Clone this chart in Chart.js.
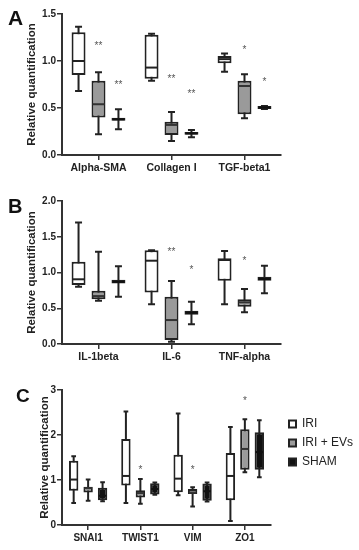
<!DOCTYPE html>
<html>
<head>
<meta charset="utf-8">
<script src="https://cdn.jsdelivr.net/npm/chart.js@4"></script>
<style>
	html, body { margin: 0; padding: 0; background: #fff; }
	#wrap { position: relative; width: 359px; height: 550px; }
	canvas { position: absolute; left: 0; }
</style>
</head>
<body>
<div id="wrap">
	<canvas id="chartA" width="359" height="185" style="top:0px"></canvas>
	<canvas id="chartB" width="359" height="180" style="top:185px"></canvas>
	<canvas id="chartC" width="359" height="185" style="top:365px"></canvas>
</div>
<script>
// === Data ===
// every box row is [min, q1, median, q3, max]

const groupNames = ['IRI', 'IRI + EVs', 'SHAM'];

// Panel A
const aCategories = ['Alpha-SMA', 'Collagen I', 'TGF-beta1'];
const aIri = [[0.68, 0.85, 1.00, 1.305, 1.365], [0.79, 0.81, 0.93, 1.28, 1.29], [0.886, 0.975, 1.02, 1.053, 1.08]];
const aEvs = [[0.22, 0.40, 0.54, 0.79, 0.88], [0.149, 0.213, 0.32, 0.354, 0.457], [0.39, 0.433, 0.734, 0.79, 0.86]];
const aSham = [[0.273, 0.365, 0.38, 0.395, 0.486], [0.188, 0.215, 0.23, 0.245, 0.266], [0.49, 0.49, 0.505, 0.52, 0.52]];
const aEvsStars = ['**', '**', '*'];
const aEvsStarY = [1.18, 0.83, 1.14];
const aShamStars = ['**', '**', '*'];
const aShamStarY = [0.77, 0.67, 0.80];

// Panel B
const bCategories = ['IL-1beta', 'IL-6', 'TNF-alpha'];
const bIri = [[0.80, 0.825, 0.905, 1.15, 1.70], [0.555, 0.72, 1.165, 1.31, 1.31], [0.555, 0.885, 1.175, 1.20, 1.30]];
const bEvs = [[0.605, 0.625, 0.67, 0.745, 1.29], [0.03, 0.056, 0.335, 0.66, 0.88], [0.443, 0.52, 0.583, 0.625, 0.77]];
const bSham = [[0.66, 0.845, 0.87, 0.90, 1.087], [0.275, 0.41, 0.438, 0.465, 0.59], [0.71, 0.885, 0.91, 0.94, 1.095]];
const bEvsStars = ['', '**', '*'];
const bEvsStarY = [null, 1.31, 1.19];
const bShamStars = ['', '*', ''];
const bShamStarY = [null, 1.06, null];

// Panel C
const cCategories = ['SNAI1', 'TWIST1', 'VIM', 'ZO1'];
const cIri = [[0.49, 0.76, 1.01, 1.43, 1.53], [0.49, 0.88, 1.09, 1.91, 2.52], [0.66, 0.73, 1.03, 1.56, 2.48], [0.09, 0.55, 1.09, 1.60, 2.18]];
const cEvs = [[0.54, 0.72, 0.82, 0.85, 1.01], [0.47, 0.61, 0.71, 0.77, 1.02], [0.41, 0.69, 0.72, 0.80, 0.84], [1.17, 1.23, 1.69, 2.13, 2.35]];
const cSham = [[0.53, 0.55, 0.65, 0.83, 0.95], [0.67, 0.68, 0.80, 0.93, 0.945], [0.52, 0.54, 0.75, 0.92, 0.945], [1.06, 1.23, 1.62, 2.06, 2.33]];
const cEvsStars = ['', '*', '*', '*'];
const cEvsStarY = [null, 1.27, 1.27, 2.80];


// === Global settings ===

const FONT = 'Arial, "Liberation Sans", Helvetica, sans-serif';
Chart.defaults.font.family = FONT;
Chart.defaults.color = '#222';

const boxFills = ['#ffffff', '#9a9a9a', '#111111'];
const medianColors = ['#222', '#333', '#111'];


// === Box plot drawing (whiskers, medians, stars, panel letter) ===

const boxPlot = {
	id: 'boxPlot',
	beforeDatasetsDraw(chart) {
		const ctx = chart.ctx;
		const y = chart.scales.y;
		ctx.save();
		ctx.strokeStyle = '#222';
		ctx.lineWidth = 2;
		chart.data.datasets.forEach((ds, i) => {
			chart.getDatasetMeta(i).data.forEach((bar, j) => {
				const s = ds.stats[j];
				const half = bar.width * 0.25;
				const yLow = y.getPixelForValue(s[0]);
				const yHigh = y.getPixelForValue(s[4]);
				ctx.beginPath();
				ctx.moveTo(bar.x, yLow);
				ctx.lineTo(bar.x, yHigh);
				ctx.moveTo(bar.x - half, yLow);
				ctx.lineTo(bar.x + half, yLow);
				ctx.moveTo(bar.x - half, yHigh);
				ctx.lineTo(bar.x + half, yHigh);
				ctx.stroke();
			});
		});
		ctx.restore();
	},
	afterDatasetsDraw(chart) {
		const ctx = chart.ctx;
		const y = chart.scales.y;
		ctx.save();
		chart.data.datasets.forEach((ds, i) => {
			chart.getDatasetMeta(i).data.forEach((bar, j) => {
				const yMed = y.getPixelForValue(ds.stats[j][2]);
				ctx.strokeStyle = ds.medianColor;
				ctx.lineWidth = 2;
				ctx.beginPath();
				ctx.moveTo(bar.x - bar.width / 2 + 1, yMed);
				ctx.lineTo(bar.x + bar.width / 2 - 1, yMed);
				ctx.stroke();

				if (ds.stars && ds.stars[j]) {
					ctx.fillStyle = '#555';
					ctx.font = '10px ' + FONT;
					ctx.textAlign = 'center';
					ctx.textBaseline = 'alphabetic';
					ctx.fillText(ds.stars[j], bar.x, y.getPixelForValue(ds.starY[j]) + 5);
				}
			});
		});
		ctx.restore();
	},
	afterDraw(chart, args, opts) {
		if (!opts.letter)
			return;
		const ctx = chart.ctx;
		ctx.save();
		ctx.fillStyle = '#111';
		ctx.font = 'bold ' + opts.size + 'px ' + FONT;
		ctx.textAlign = 'left';
		ctx.textBaseline = 'alphabetic';
		ctx.fillText(opts.letter, opts.x, opts.y);
		ctx.restore();
	}
};

// moves the legend so its first box starts at (x, y)
const legendPlace = {
	id: 'legendPlace',
	afterLayout(chart, args, opts) {
		const lg = chart.legend;
		if (!lg || !lg.options.display || opts.x === undefined)
			return;
		const pad = lg.options.labels.padding;
		const dx = opts.x - pad - lg.left;
		const dy = opts.y - pad - lg.top;
		lg.left += dx;
		lg.right += dx;
		lg.top += dy;
		lg.bottom += dy;
	}
};


// === Chart builder ===

function boxDataset(index, stats, stars, starY, barPct, catPct) {
	return {
		label: groupNames[index],
		data: stats.map(s => [s[1], s[3]]),
		stats: stats,
		stars: stars,
		starY: starY,
		medianColor: medianColors[index],
		backgroundColor: boxFills[index],
		borderColor: '#222',
		borderWidth: 2,
		borderSkipped: false,
		barPercentage: barPct,
		categoryPercentage: catPct
	};
}

function createBoxChart(canvas, labels, datasets, cfg) {
	return new Chart(canvas, {
		type: 'bar',
		data: { labels: labels, datasets: datasets },
		options: {
			responsive: false,
			animation: false,
			events: [],
			layout: { padding: { top: cfg.padTop, right: cfg.padRight, left: 0, bottom: 0 } },
			scales: {
				x: {
					afterFit: s => { s.height = cfg.xHeight; },
					border: { color: '#333', width: 2 },
					grid: { offset: false, drawOnChartArea: false, tickLength: 5, color: '#333', lineWidth: 1.5 },
					ticks: { padding: 2, color: '#222', font: { size: cfg.xFont, weight: 'bold' } }
				},
				y: {
					min: 0,
					max: cfg.yMax,
					afterFit: s => { s.width = 62; },
					border: { color: '#333', width: 2 },
					grid: { drawOnChartArea: false, tickLength: 5, color: '#333', lineWidth: 1.5 },
					ticks: {
						stepSize: cfg.yStep,
						padding: 1,
						color: '#222',
						font: { size: 10, weight: 'bold' },
						callback: v => v.toFixed(cfg.decimals)
					},
					title: {
						display: true,
						text: 'Relative quantification',
						color: '#222',
						font: { size: 11.5, weight: 'bold' },
						padding: { top: cfg.titlePad, bottom: 0 }
					}
				}
			},
			plugins: {
				tooltip: { enabled: false },
				legend: cfg.legend || { display: false },
				boxPlot: cfg.letter,
				legendPlace: cfg.legendAt || {}
			}
		},
		plugins: [boxPlot, legendPlace]
	});
}


// === Panel A ===

createBoxChart(document.getElementById('chartA'), aCategories, [
	boxDataset(0, aIri, null, null, 0.7, 0.82),
	boxDataset(1, aEvs, aEvsStars, aEvsStarY, 0.7, 0.82),
	boxDataset(2, aSham, aShamStars, aShamStarY, 0.7, 0.82)
], {
	yMax: 1.5, yStep: 0.5, decimals: 1,
	padTop: 14, padRight: 78, xHeight: 30, xFont: 10.5, titlePad: 25,
	letter: { letter: 'A', x: 8, y: 25, size: 21 }
});


// === Panel B ===

createBoxChart(document.getElementById('chartB'), bCategories, [
	boxDataset(0, bIri, null, null, 0.7, 0.82),
	boxDataset(1, bEvs, bEvsStars, bEvsStarY, 0.7, 0.82),
	boxDataset(2, bSham, bShamStars, bShamStarY, 0.7, 0.82)
], {
	yMax: 2.0, yStep: 0.5, decimals: 1,
	padTop: 16, padRight: 78, xHeight: 21, xFont: 10.5, titlePad: 25,
	letter: { letter: 'B', x: 8, y: 28, size: 20 }
});


// === Panel C ===

createBoxChart(document.getElementById('chartC'), cCategories, [
	boxDataset(0, cIri, null, null, 0.65, 0.83),
	boxDataset(1, cEvs, cEvsStars, cEvsStarY, 0.65, 0.83),
	boxDataset(2, cSham, null, null, 0.65, 0.83)
], {
	yMax: 3, yStep: 1, decimals: 0,
	padTop: 25, padRight: 7, xHeight: 25, xFont: 10, titlePad: 38,
	letter: { letter: 'C', x: 16, y: 37, size: 19 },
	legend: {
		display: true,
		position: 'right',
		align: 'start',
		fullSize: false,
		labels: { boxWidth: 7, boxHeight: 7, padding: 7, color: '#222', font: { size: 12 } }
	},
	legendAt: { x: 289, y: 53 }
});
</script>
</body>
</html>
